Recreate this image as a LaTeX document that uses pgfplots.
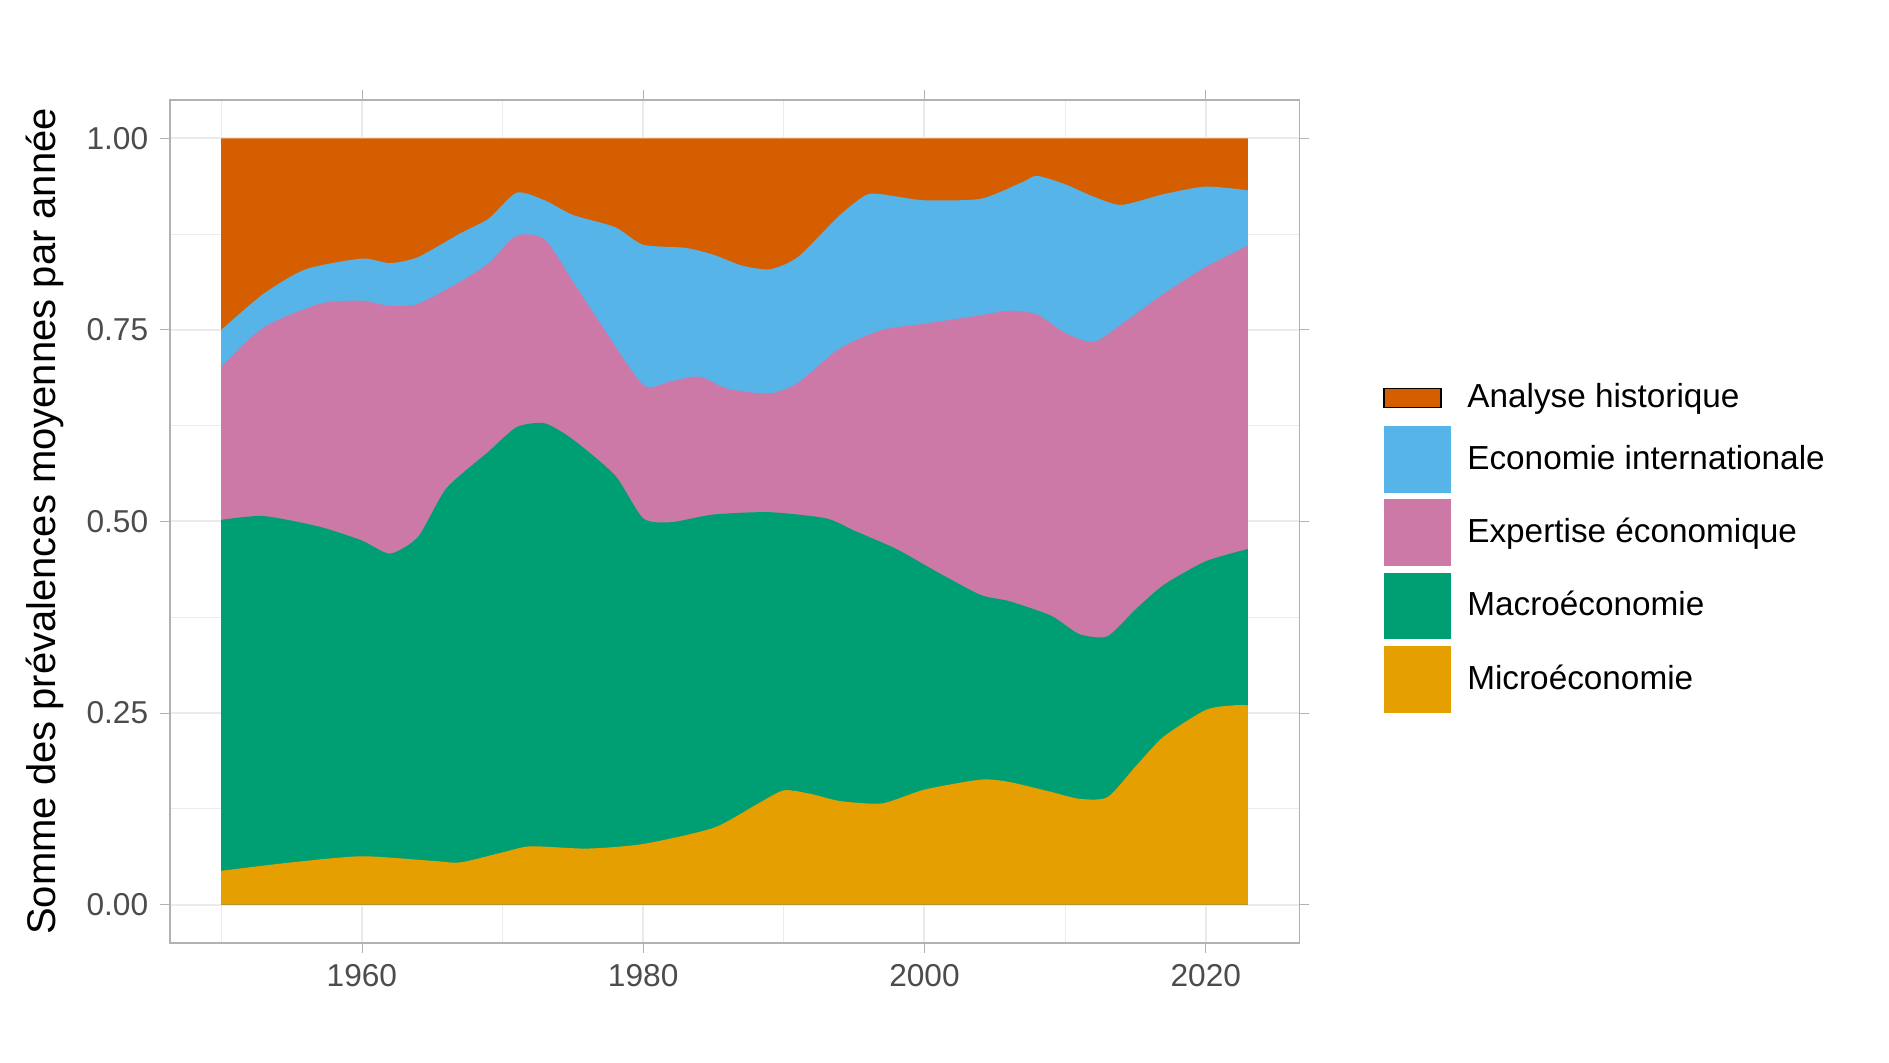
\documentclass[border=0pt]{standalone}
\usepackage{pgfplots}
\pgfplotsset{compat=1.18}
\usepackage{fontspec}
\setmainfont{Liberation Sans}
\definecolor{cHist}{HTML}{D55E00}
\definecolor{cInt}{HTML}{56B4E9}
\definecolor{cExp}{HTML}{CC79A7}
\definecolor{cMac}{HTML}{009E73}
\definecolor{cMic}{HTML}{E69F00}
\definecolor{gridc}{HTML}{EBEBEB}
\begin{document}
\begin{tikzpicture}
\begin{axis}[
  scale only axis, width=339pt, height=253pt,
  xmin=1946.35, xmax=2026.65, ymin=-0.05, ymax=1.05,
  xtick={1960,1980,2000,2020}, minor xtick={1950,1970,1990,2010},
  ytick={0,0.25,0.5,0.75,1}, minor ytick={0.125,0.375,0.625,0.875},
  yticklabels={0.00,0.25,0.50,0.75,1.00},
  xticklabel style={/pgf/number format/1000 sep={}},
  /pgf/number format/assume math mode=true,
  tick label style={font=\fontsize{9.5}{11}\selectfont, text=black!70},
  grid=both, major grid style={gridc, line width=0.6pt}, minor grid style={gridc, line width=0.3pt},
  axis line style={black!30}, major tick style={black!30}, minor tick style={draw=none},
  tick align=outside, major tick length=3pt,
  axis on top=false,
  ylabel={Somme des prévalences moyennes par année},
  ylabel style={font=\fontsize{12}{14}\selectfont},
  legend style={at={(rel axis cs:1.065,0.68)}, anchor=north west, draw=none, fill=none,
    font=\fontsize{10}{12}\selectfont, row sep=2pt},
  legend cell align=left,
  legend image code/.code={\fill[#1] (0,-10pt) rectangle (20pt,10pt);},
]
\addplot[draw=none, fill=cHist, area legend] coordinates {(1950,0)(1950,1)(2023,1)(2023,0)} \closedcycle;
\addlegendentry{\hspace{3pt}Analyse historique}
\addplot[draw=none, fill=cInt, smooth, tension=0.4] coordinates {(1950,0.75)(1953,0.797)(1956,0.829)(1960,0.843)(1962,0.837)(1964,0.845)(1967,0.876)(1969,0.895)(1971,0.929)(1973,0.919)(1975,0.9)(1978,0.884)(1980,0.861)(1983,0.857)(1985,0.848)(1987,0.834)(1989,0.829)(1991,0.845)(1994,0.9)(1996,0.927)(1998,0.924)(2000,0.919)(2004,0.921)(2007,0.943)(2008,0.951)(2010,0.94)(2012,0.924)(2014,0.913)(2017,0.927)(2020,0.937)(2023,0.932)} \closedcycle;
\addlegendentry{\hspace{3pt}Economie internationale}
\addplot[draw=none, fill=cExp, smooth, tension=0.4] coordinates {(1950,0.702)(1953,0.753)(1957,0.784)(1960,0.788)(1962,0.781)(1964,0.784)(1967,0.813)(1969,0.837)(1971,0.873)(1973,0.868)(1975,0.813)(1977,0.757)(1980,0.678)(1982,0.683)(1984,0.689)(1986,0.673)(1989,0.667)(1991,0.681)(1994,0.726)(1997,0.75)(2000,0.758)(2004,0.769)(2006,0.775)(2008,0.77)(2010,0.746)(2012,0.734)(2014,0.757)(2017,0.797)(2020,0.832)(2023,0.860)} \closedcycle;
\addlegendentry{\hspace{3pt}Expertise économique}
\addplot[draw=none, fill=cMac, smooth, tension=0.4] coordinates {(1950,0.502)(1953,0.507)(1957,0.493)(1960,0.475)(1962,0.458)(1964,0.48)(1966,0.543)(1969,0.591)(1971,0.623)(1973,0.628)(1975,0.607)(1978,0.56)(1980,0.504)(1982,0.499)(1985,0.509)(1989,0.512)(1993,0.504)(1995,0.488)(1998,0.464)(2001,0.433)(2004,0.404)(2006,0.396)(2009,0.377)(2011,0.353)(2013,0.350)(2015,0.385)(2017,0.417)(2020,0.448)(2023,0.464)} \closedcycle;
\addlegendentry{\hspace{3pt}Macroéconomie}
\addplot[draw=none, fill=cMic, smooth, tension=0.4] coordinates {(1950,0.044)(1955,0.055)(1960,0.063)(1965,0.057)(1967,0.055)(1970,0.068)(1972,0.076)(1976,0.073)(1980,0.079)(1985,0.10)(1988,0.13)(1990,0.149)(1992,0.144)(1994,0.135)(1997,0.132)(2000,0.15)(2004,0.163)(2006,0.16)(2009,0.147)(2011,0.138)(2013,0.14)(2015,0.18)(2017,0.219)(2020,0.254)(2022,0.26)(2023,0.26)} \closedcycle;
\addlegendentry{\hspace{3pt}Microéconomie}
\node[anchor=west, font=\fontsize{13}{15}\selectfont] at (rel axis cs:1.063,0.727) {Meta-thématiques};
\end{axis}
\path ([shift={(-51pt,-36pt)}]current axis.south west) rectangle ([shift={(177pt,30pt)}]current axis.north east);
\end{tikzpicture}
\end{document}
